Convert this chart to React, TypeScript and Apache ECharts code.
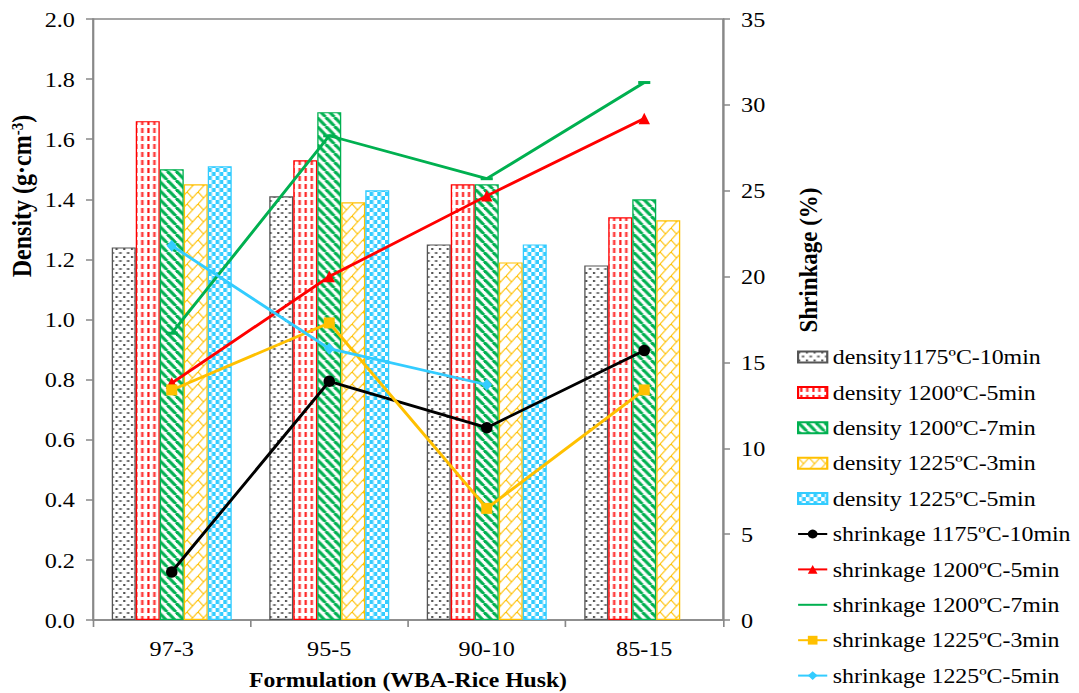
import React, { useEffect, useRef } from "react";
import * as echarts from "echarts";

// ---- data ----
const categories = ["97-3", "95-5", "90-10", "85-15"];

const densityNames = [
  "density1175ºC-10min",
  "density 1200ºC-5min",
  "density 1200ºC-7min",
  "density 1225ºC-3min",
  "density 1225ºC-5min",
];
const density1175_10 = [1.24, 1.41, 1.25, 1.18];
const density1200_5 = [1.66, 1.53, 1.45, 1.34];
const density1200_7 = [1.5, 1.69, 1.45, 1.4];
const density1225_3 = [1.45, 1.39, 1.19, 1.33];
const density1225_5 = [1.51, 1.43, 1.25, null];

const shrinkageNames = [
  "shrinkage 1175ºC-10min",
  "shrinkage 1200ºC-5min",
  "shrinkage 1200ºC-7min",
  "shrinkage 1225ºC-3min",
  "shrinkage 1225ºC-5min",
];
const shrink1175_10 = [2.8, 13.9, 11.2, 15.7];
const shrink1200_5 = [13.8, 20.0, 24.7, 29.2];
const shrink1200_7 = [16.7, 28.2, 25.7, 31.3];
const shrink1225_3 = [13.4, 17.3, 6.5, 13.4];
const shrink1225_5 = [21.8, 15.8, 13.7, null];

const densityAxis = { min: 0, max: 2, interval: 0.2 };
const shrinkAxis = { min: 0, max: 35, interval: 5 };

const xTitle = "Formulation (WBA-Rice Husk)";
const yLeftTitle = "Density (g·cm{sup|-3})";
const yRightTitle = "Shrinkage (%)";

// ---- layout helpers ----
const SX = 1.1; // horizontal stretch of the reference picture
const W = 981;
const H = 693;
const FONT = "'Liberation Serif', 'Times New Roman', serif";

function pattern(w: number, h: number, draw: (c: CanvasRenderingContext2D) => void) {
  const cv = document.createElement("canvas");
  cv.width = w;
  cv.height = h;
  const ctx = cv.getContext("2d")!;
  ctx.fillStyle = "#ffffff";
  ctx.fillRect(0, 0, w, h);
  draw(ctx);
  return { image: cv, repeat: "repeat" } as any;
}

export default function App() {
  const ref = useRef<HTMLDivElement>(null);

  useEffect(() => {
    if (!ref.current) return;
    const chart = echarts.init(ref.current, null, { renderer: "svg" });

    const grayP = pattern(7, 8, (c) => {
      c.fillStyle = "#555";
      c.fillRect(0, 0, 2, 2);
      c.fillRect(3.5, 4, 2, 2);
    });
    const redP = pattern(11, 8, (c) => {
      c.fillStyle = "#ff0000";
      c.fillRect(2, 0, 1.8, 5);
      c.fillRect(7.5, 0, 1.8, 5);
    });
    const greenP = pattern(8, 9, (c) => {
      c.strokeStyle = "#00B050";
      c.lineWidth = 3;
      for (const o of [-8, 0, 8]) {
        c.beginPath();
        c.moveTo(o, 0);
        c.lineTo(o + 8, 9);
        c.stroke();
      }
    });
    const yellowP = pattern(10, 12, (c) => {
      c.strokeStyle = "#FFC000";
      c.lineWidth = 1.1;
      for (const o of [-10, 0, 10]) {
        c.beginPath();
        c.moveTo(o, 12);
        c.lineTo(o + 10, 0);
        c.stroke();
        c.beginPath();
        c.moveTo(o, 0);
        c.lineTo(o + 5, 6);
        c.stroke();
      }
    });
    const blueP = pattern(7, 8, (c) => {
      c.fillStyle = "#33CCFF";
      c.fillRect(0, 0, 3.5, 4);
      c.fillRect(3.5, 4, 3.5, 4);
    });

    const barDefs = [
      { name: densityNames[0], data: density1175_10, fill: grayP, border: "#555555" },
      { name: densityNames[1], data: density1200_5, fill: redP, border: "#FF0000" },
      { name: densityNames[2], data: density1200_7, fill: greenP, border: "#00B050" },
      { name: densityNames[3], data: density1225_3, fill: yellowP, border: "#FFC000" },
      { name: densityNames[4], data: density1225_5, fill: blueP, border: "#33CCFF" },
    ];
    const lineDefs = [
      { name: shrinkageNames[0], data: shrink1175_10, color: "#000000", symbol: "circle", size: [10.5, 11.5] },
      { name: shrinkageNames[1], data: shrink1200_5, color: "#FF0000", symbol: "triangle", size: [10.5, 11.5] },
      { name: shrinkageNames[2], data: shrink1200_7, color: "#00B050", symbol: "rect", size: [11, 3] },
      { name: shrinkageNames[3], data: shrink1225_3, color: "#FFC000", symbol: "rect", size: [10, 11] },
      { name: shrinkageNames[4], data: shrink1225_5, color: "#33CCFF", symbol: "diamond", size: [9.5, 12] },
    ];

    const axisLine = { show: true, lineStyle: { color: "#888888", width: 1.5 } };
    const labelStyle = { fontFamily: FONT, fontSize: 22, color: "#000000" };

    chart.setOption({
      animation: false,
      backgroundColor: "#ffffff",
      textStyle: { fontFamily: FONT },
      grid: {
        left: 93 / SX,
        right: W - 723 / SX,
        top: 19,
        bottom: H - 620,
        show: true,
        borderColor: "#888888",
        borderWidth: 1.5,
        containLabel: false,
        outerBoundsMode: "none",
      },
      legend: {
        orient: "vertical",
        left: 797 / SX,
        top: 346,
        height: 380,
        padding: 0,
        itemWidth: 26.5,
        itemHeight: 11,
        itemGap: 13.4,
        textStyle: { fontFamily: FONT, fontSize: 21.7, color: "#000000", lineHeight: 22 },
        data: [
          ...barDefs.map((b) => ({ name: b.name, icon: "rect" })),
          ...lineDefs.map((l, i) => (i === 2 ? { name: l.name, itemStyle: { opacity: 0 } } : { name: l.name })),
        ],
      },
      xAxis: {
        type: "category",
        data: categories,
        boundaryGap: true,
        axisLine,
        axisTick: { show: true, length: 7, alignWithLabel: false, lineStyle: { color: "#888888", width: 1.5 } },
        axisLabel: { ...labelStyle, margin: 17 },
      },
      yAxis: [
        {
          type: "value",
          position: "left",
          ...densityAxis,
          axisLine,
          axisTick: { show: true, length: 6.4, lineStyle: { color: "#888888", width: 1.5 } },
          axisLabel: { ...labelStyle, margin: 16.4, formatter: (v: number) => v.toFixed(1) },
          splitLine: { show: false },
        },
        {
          type: "value",
          position: "right",
          ...shrinkAxis,
          axisLine,
          axisTick: { show: true, length: 6.4, lineStyle: { color: "#888888", width: 1.5 } },
          axisLabel: { ...labelStyle, margin: 16.4 },
          splitLine: { show: false },
        },
      ],
      series: [
        ...barDefs.map((b) => ({
          type: "bar",
          name: b.name,
          data: b.data,
          yAxisIndex: 0,
          barWidth: 24 / SX,
          barGap: "0%",
          itemStyle: { color: b.fill, borderColor: b.border, borderWidth: 1.2 },
        })),
        ...lineDefs.map((l) => ({
          type: "line",
          name: l.name,
          data: l.data,
          yAxisIndex: 1,
          symbol: l.symbol,
          symbolSize: l.size,
          connectNulls: false,
          z: 5,
          lineStyle: { color: l.color, width: 2.8 },
          itemStyle: { color: l.color },
        })),
      ],
      graphic: [
        {
          type: "text",
          x: 22 / SX,
          y: 196,
          rotation: Math.PI / 2,
          style: {
            text: yLeftTitle,
            fontFamily: FONT,
            fontSize: 24,
            fontWeight: "bold",
            fill: "#000",
            align: "center",
            verticalAlign: "middle",
            rich: {
              sup: { fontFamily: FONT, fontSize: 15, fontWeight: "bold", verticalAlign: "top", fill: "#000" },
            },
          },
        },
        {
          type: "text",
          x: 808 / SX,
          y: 260,
          rotation: Math.PI / 2,
          style: {
            text: yRightTitle,
            fontFamily: FONT,
            fontSize: 23,
            fontWeight: "bold",
            fill: "#000",
            align: "center",
            verticalAlign: "middle",
          },
        },
        {
          type: "text",
          x: 408 / SX,
          y: 680,
          style: {
            text: xTitle,
            fontFamily: FONT,
            fontSize: 21.5,
            fontWeight: "bold",
            fill: "#000",
            align: "center",
            verticalAlign: "middle",
          },
        },
      ],
    });

    return () => chart.dispose();
  }, []);

  return (
    <div
      ref={ref}
      style={{
        position: "fixed",
        left: 0,
        top: 0,
        width: W,
        height: H,
        transform: `scaleX(${SX})`,
        transformOrigin: "0 0",
        background: "#fff",
      }}
    />
  );
}
